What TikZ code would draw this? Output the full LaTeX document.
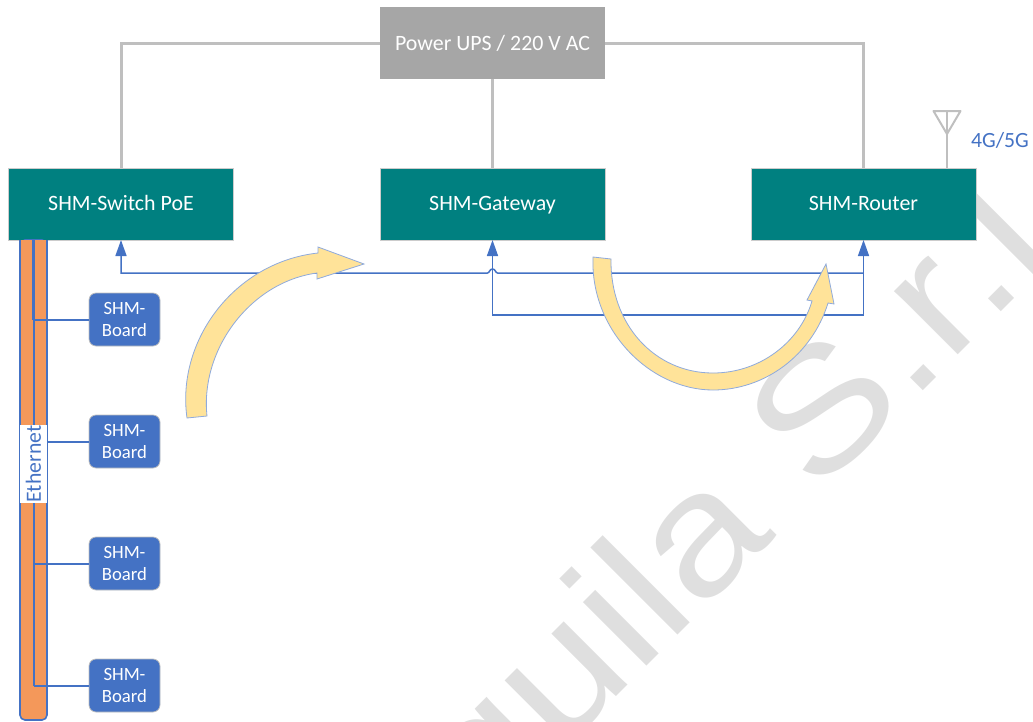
\documentclass[tikz,border=0pt]{standalone}
\usepackage{fontspec}
\setmainfont{Carlito}
\newfontfamily\markfont{Liberation Sans}
\usetikzlibrary{arrows.meta,calc}
\definecolor{ublue}{HTML}{4472C4}
\definecolor{uteal}{HTML}{008080}
\definecolor{ugray}{HTML}{A6A6A6}
\definecolor{uline}{HTML}{BFBFBF}
\definecolor{uorange}{HTML}{F4985A}
\definecolor{uyellow}{HTML}{FFE399}
\definecolor{uedge}{HTML}{8FAADC}
\definecolor{umark}{HTML}{DFDFDF}
\tikzset{
  x=1pt,y=-1pt,
  mainbox/.style={draw=white!80!black,line width=0.75pt,fill=uteal,text=white,minimum width=225pt,minimum height=72pt,inner sep=0pt,outer sep=0pt,text height=16pt,text depth=4pt,font=\fontsize{21.9}{24}\selectfont},
  upsbox/.style={mainbox,fill=ugray,draw=none,text height=17pt,text depth=3pt},
  board/.style={draw=white!75!black,line width=0.75pt,fill=ublue,text=white,rounded corners=7pt,minimum width=71pt,minimum height=53pt,inner sep=0pt,outer sep=0pt,align=center,font=\fontsize{18.7}{22}\selectfont},
  power/.style={draw=uline,line width=3pt},
  bus/.style={draw=ublue,line width=1.5pt},
  busarrow/.style={bus,-{Triangle[length=16pt,width=11pt]}},
  wire/.style={draw=ublue,line width=2pt},
  flow/.style={draw=uedge,line width=0.8pt,fill=uyellow,line join=miter},
}
\begin{document}
\begin{tikzpicture}
\useasboundingbox (0,0) rectangle (1033,721);
% watermark
\begin{scope}
\clip (0,0) rectangle (1033,721);
\node[rotate=45,anchor=base west,inner sep=0pt,text=umark,font=\markfont\fontsize{170}{170}\selectfont] (wm) at (388.5,924.5) {\scalebox{1.165}[1]{Aquila S.r.l.}};
\end{scope}
% nodes
\node[upsbox] (ups) at (492.5,43) {Power UPS / 220 V AC};
\node[mainbox] (sw) at (121,204) {SHM-Switch PoE};
\node[mainbox] (gw) at (492.5,204) {SHM-Gateway};
\node[mainbox] (rt) at (863.5,204) {SHM-Router};
% power lines
\draw[power] (ups.west) -| (sw.north);
\draw[power] (ups.east) -| (rt.north);
\draw[power] (ups.south) -- (gw.north);
% antenna
\coordinate (anttop) at (947,111);
\coordinate (antl) at (933.5,111);
\coordinate (antr) at (960.5,111);
\coordinate (antb) at (947,134);
\draw[draw=uline,line width=2pt,line join=round] (antl) -- (antr) -- (antb) -- cycle;
\draw[draw=uline,line width=2pt] (anttop) -- (947,168);
\node[text=ublue,inner sep=0pt,font=\fontsize{21.7}{24}\selectfont] (ant) at (1000,140) {4G/5G};
% Ethernet bar
\node[draw=ublue,line width=1.6pt,fill=uorange,minimum width=27pt,minimum height=480pt,inner sep=0pt,outer sep=0pt,rounded corners=5pt] (bar) at (33.5,480) {};
\fill[uorange] (21,240) rectangle (47,250);
\draw[draw=ublue,line width=1.6pt] (20,240) -- (20,250) (47,240) -- (47,250);
% boards
\node[board] (b1) at (124.5,319.5) {SHM-\\Board};
\node[board] (b2) at (124.5,441.5) {SHM-\\Board};
\node[board] (b3) at (124.5,563.5) {SHM-\\Board};
\node[board] (b4) at (124.5,685.5) {SHM-\\Board};
\coordinate (tap) at (33.5,240);
\draw[wire,line width=3.5pt] (tap) -- (33.5,320);
\draw[wire] (33.5,320) -- (33.5,608);
\draw[wire,line width=2pt] (33.5,608) -- (33.5,685.5);
\draw[wire] (33.5,319.5) -- (b1.west);
\draw[wire] (33.5,441.5) -- (b2.west);
\draw[wire] (33.5,563.5) -- (b3.west);
\draw[wire] (33.5,685.5) -- (b4.west);
\node[fill=white,text=ublue,rotate=90,minimum width=78pt,minimum height=27pt,inner sep=0pt,font=\fontsize{21.7}{24}\selectfont] (eth) at (33.5,464) {Ethernet};
% buses
\coordinate (bs) at (121,273);
\coordinate (be) at (863.5,273);
\coordinate (cs) at (492.5,315);
\coordinate (ce) at (863.5,315);
\draw[busarrow] (be) -- ($(gw.south)+(5,33)$) .. controls ($(gw.south)+(3,33)$) and ($(gw.south)+(3,29)$) .. ($(gw.south)+(0,29)$) .. controls ($(gw.south)+(-3,29)$) and ($(gw.south)+(-3,33)$) .. ($(gw.south)+(-5,33)$) -- (bs) -- (sw.south);
\draw[busarrow] (ce) -- (cs) -- (gw.south);
\draw[busarrow] (ce) -- (rt.south);
% flow arrows
\path[flow] (187,418) .. controls (176,340) and (235,262) .. (318,253) -- (318,247) -- (364,264) -- (317,279) -- (317,273) .. controls (250,282) and (200,350) .. (207,416) -- cycle;
\path[flow] (593,257) .. controls (590,330) and (650,390) .. (713,390) .. controls (765,390) and (812,355) .. (828,303) -- (834,304) -- (826,264) -- (807,300) -- (812,301) .. controls (800,342) and (760,373) .. (713,373) .. controls (655,373) and (610,325) .. (611,259) -- cycle;
\end{tikzpicture}
\end{document}
